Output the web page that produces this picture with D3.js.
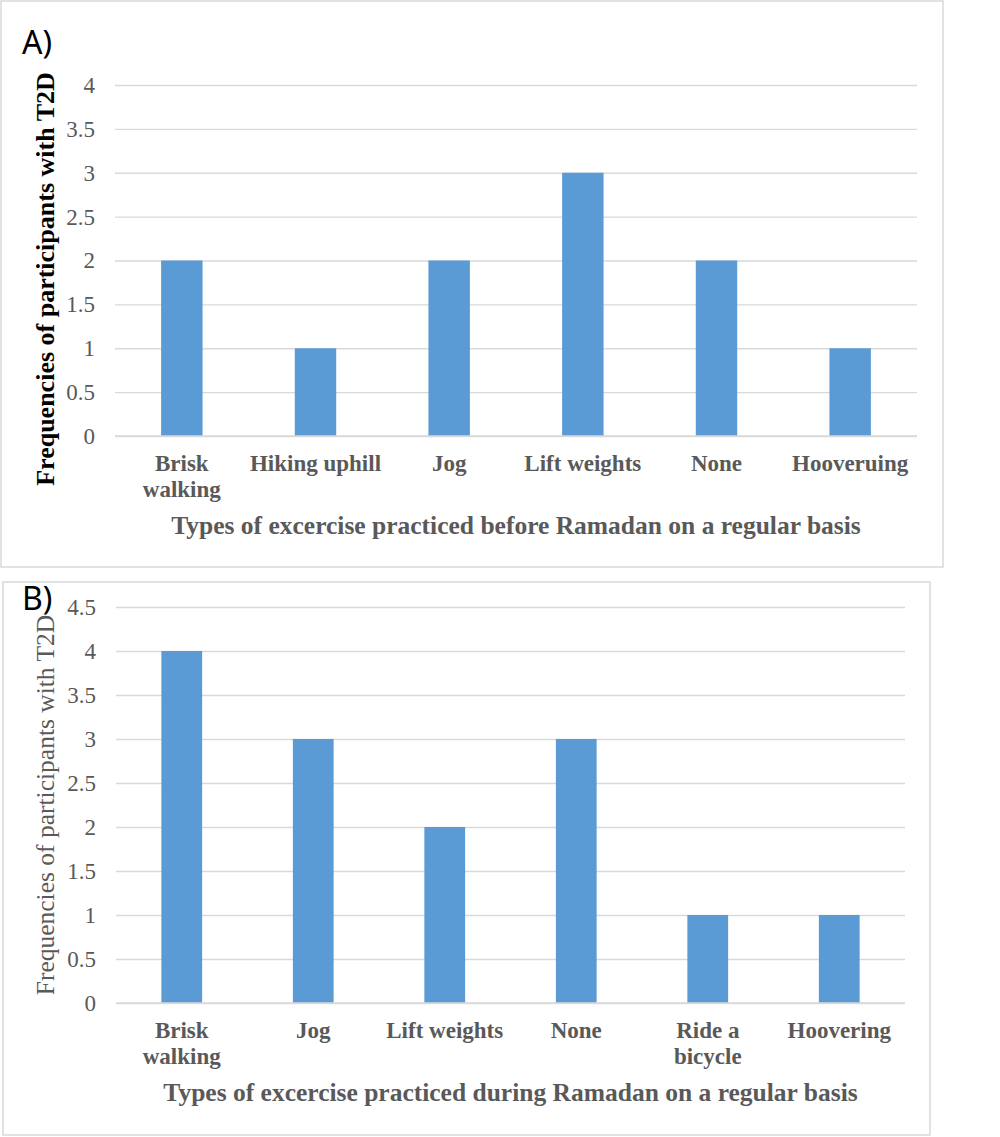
<!DOCTYPE html>
<html><head><meta charset="utf-8">
<script src="https://cdn.jsdelivr.net/npm/d3@7"></script>
<style>body{margin:0;background:#fff}svg{display:block}</style>
</head><body>
<svg id="c" width="1000" height="1137"></svg>
<script>
const catsA = ["Brisk\nwalking","Hiking uphill","Jog","Lift weights","None","Hooveruing"];
const valsA = [2,1,2,3,2,1];
const ticksA = [0,0.5,1,1.5,2,2.5,3,3.5,4];
const catsB = ["Brisk\nwalking","Jog","Lift weights","None","Ride a\nbicycle","Hoovering"];
const valsB = [4,3,2,3,1,1];
const ticksB = [0,0.5,1,1.5,2,2.5,3,3.5,4,4.5];
const titleA = "Types of excercise practiced before Ramadan on a regular basis";
const titleB = "Types of excercise practiced during Ramadan on a regular basis";
const yTitle = "Frequencies of participants with T2D";

const svg = d3.select("#c");
const serif = "'Liberation Serif','Times New Roman',serif";
const grey = "#595959";

function panel(o){
  const g = svg.append("g");
  g.append("rect").attr("x",o.box[0]).attr("y",o.box[1]).attr("width",o.box[2]-o.box[0]).attr("height",o.box[3]-o.box[1])
    .attr("fill","#fff").attr("stroke","#d9d9d9").attr("stroke-width",1.5);
  const x = d3.scaleBand().domain(o.cats).range([o.x0,o.x1]).paddingInner(0.69).paddingOuter(0.345);
  const y = d3.scaleLinear().domain([0,o.max]).range([o.y0,o.y1]);
  const ax = g.append("g").attr("transform",`translate(${o.x0},0)`)
    .call(d3.axisLeft(y).tickValues(o.ticks).tickSize(-(o.x1-o.x0)).tickPadding(20).tickFormat(d=>d));
  ax.select(".domain").remove();
  ax.selectAll(".tick line").attr("stroke","#d9d9d9").attr("stroke-width",1.3);
  ax.selectAll(".tick text").attr("fill",grey).attr("font-family",serif).attr("font-size",23);
  g.selectAll("rect.bar").data(o.vals).join("rect").attr("class","bar")
    .attr("x",(d,i)=>x(o.cats[i])).attr("width",x.bandwidth())
    .attr("y",d=>y(d)).attr("height",d=>o.y0-y(d)).attr("fill","#5B9BD5");
  g.append("line").attr("x1",o.x0).attr("x2",o.x1).attr("y1",o.y0).attr("y2",o.y0).attr("stroke","#d9d9d9").attr("stroke-width",1.3);
  o.cats.forEach(c=>{
    const cx = x(c)+x.bandwidth()/2;
    const t = g.append("text").attr("x",cx).attr("y",o.y0+35).attr("text-anchor","middle")
      .attr("font-family",serif).attr("font-weight","bold").attr("font-size",23).attr("fill",grey);
    c.split("\n").forEach((s,k)=>t.append("tspan").attr("x",cx).attr("dy",k?26:0).text(s));
  });
  g.append("text").attr("x",(o.x0+o.x1)/2 + o.titleDx).attr("y",o.titleY).attr("text-anchor","middle")
    .attr("font-family",serif).attr("font-weight","bold").attr("font-size",25.5).attr("fill",grey).text(o.title);
  g.append("text").attr("transform",`translate(${o.ylx},${o.yly}) rotate(-90)`).attr("text-anchor","middle")
    .attr("font-family",serif).attr("font-weight",o.ybold?"bold":"normal").attr("font-size",o.ybold?26:25.5)
    .attr("fill",o.ycol).text(yTitle);
  g.append("text").attr("x",22).attr("y",o.lab[1]).attr("font-family","'Noto Sans','DejaVu Sans',sans-serif")
    .attr("font-size",32).attr("fill","#000").text(o.lab[0]);
}

panel({box:[1,1,943,567],cats:catsA,vals:valsA,ticks:ticksA,max:4,x0:115,x1:917,y0:436,y1:85,
  title:titleA,titleY:534,titleDx:0,ylx:54,yly:279,ybold:true,ycol:"#000",lab:["A)",54]});
panel({box:[3,582,930,1135],cats:catsB,vals:valsB,ticks:ticksB,max:4.5,x0:116,x1:905,y0:1003,y1:607,
  title:titleB,titleY:1101,titleDx:0,ylx:54,yly:805,ybold:false,ycol:grey,lab:["B)",610]});
</script>
</body></html>
